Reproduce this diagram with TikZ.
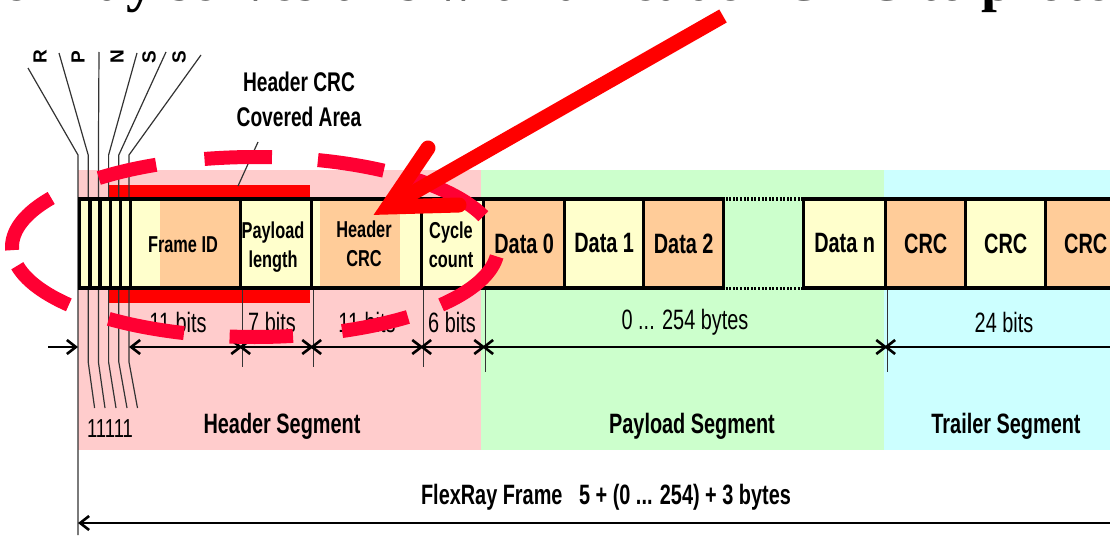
\documentclass[tikz,border=0pt]{standalone}
\usepackage{fontspec}
\setmainfont{Liberation Sans}[FakeStretch=0.71]
\newfontfamily\plainsans{Liberation Sans}
\newfontfamily\headserif{Liberation Serif}
\usetikzlibrary{arrows.meta}

\definecolor{hdrpink}{HTML}{FFCCCC}
\definecolor{paygreen}{HTML}{CCFFCC}
\definecolor{trlcyan}{HTML}{CCFFFF}
\definecolor{cellorange}{HTML}{FFCC99}
\definecolor{cellyellow}{HTML}{FFFFCC}
\definecolor{crcred}{HTML}{FF0000}
\definecolor{ringred}{HTML}{FF0033}
\definecolor{inkgrey}{HTML}{333333}

\begin{document}
\begin{tikzpicture}[x=1pt,y=-1pt,
  segbox/.style={draw=none, inner sep=0pt, anchor=north west, minimum height=280pt},
  cell/.style={draw=black, line width=3.4pt, anchor=west, minimum height=89pt, inner sep=0pt, align=center},
  celltxt/.style={font=\fontsize{23}{29}\selectfont\bfseries},
  datatxt/.style={font=\fontsize{28}{30}\selectfont\bfseries},
  bigbold/.style={inner sep=0pt, font=\fontsize{28}{34}\selectfont\bfseries, align=center},
  bigplain/.style={inner sep=0pt, font=\fontsize{28}{30}\selectfont},
  flaglbl/.style={inner sep=0pt, rotate=90, font=\fontsize{19}{19}\selectfont\plainsans\bfseries},
  thinline/.style={line width=1.2pt, draw=inkgrey},
  dotedge/.style={line width=3.4pt, dash pattern=on 2pt off 1.6pt},
  barb/.tip={Straight Barb[length=9pt,width=14pt]},
  dim/.style={line width=2.6pt, barb-barb},
  dimto/.style={line width=2.6pt, -barb},
  dimfrom/.style={line width=2.6pt, barb-},
  ringdash/.style={draw=ringred, line width=14pt, line cap=butt},
  bigarrow/.style={draw=crcred, line width=15pt}
]
\useasboundingbox (0,0) rectangle (1110,535);
\clip (0,0) rectangle (1110,535);

% slide heading running off the top edge
\node[anchor=base west, inner sep=0pt, font=\fontsize{57}{60}\selectfont\headserif\bfseries] (heading) at (-48,1) {FlexRay serves this with a header CRC to protect};

% segment backgrounds
\node[segbox, fill=hdrpink,  minimum width=403pt] (hseg) at (78,170) {};
\node[segbox, fill=paygreen, minimum width=403pt] (pseg) at (481,170) {};
\node[segbox, fill=trlcyan,  minimum width=240pt] (tseg) at (884,170) {};

% area covered by the header CRC
\fill[crcred] (109,185) rectangle (310,199);
\fill[crcred] (109,288) rectangle (310,303);

% indicator bit labels and their leader lines
\node[flaglbl] (fR)  at (40,57)  {R};
\node[flaglbl] (fP)  at (78,57)  {P};
\node[flaglbl] (fN)  at (117,57) {N};
\node[flaglbl] (fS1) at (149,57) {S};
\node[flaglbl] (fS2) at (179,57) {S};
\draw[thinline] (28,68) -- (78,155) -- (78,535);
\draw[thinline] (59,53) -- (88.2,155) -- (88.2,362) -- (94.6,408);
\draw[thinline] (99,52) -- (98.4,155) -- (98.4,362) -- (105,408);
\draw[thinline] (137,53) -- (108.6,155) -- (108.6,362) -- (116,408);
\draw[thinline] (166,52) -- (118.8,155) -- (118.8,362) -- (127,408);
\draw[thinline] (201,55) -- (129,155) -- (129,362) -- (137.5,408);
\node[bigplain, font=\fontsize{26}{28}\selectfont] (ones) at (110,429) {11111};

% header CRC coverage callout
\node[bigbold, font=\fontsize{27}{35}\selectfont\bfseries] (covlbl) at (299,99) {Header CRC\\Covered Area};
\coordinate (covtip) at (238,186);
\draw[thinline] (258,142) -- (covtip);

% two-tone backgrounds of Frame ID and Header CRC
\fill[cellyellow] (129,199) rectangle (160,288);
\fill[cellorange] (160,199) rectangle (239,288);
\fill[cellyellow] (310,199) rectangle (420,288);
\fill[cellorange] (320,199) rectangle (400,288);

% frame cells
\node[cell, fill=cellyellow, minimum width=10.2pt] (b1) at (78,243.5) {};
\node[cell, fill=cellyellow, minimum width=10.2pt] (b2) at (88.2,243.5) {};
\node[cell, fill=cellyellow, minimum width=10.2pt] (b3) at (98.4,243.5) {};
\node[cell, fill=cellyellow, minimum width=10.2pt] (b4) at (108.6,243.5) {};
\node[cell, fill=cellyellow, minimum width=10.2pt] (b5) at (118.8,243.5) {};
\node[cell, minimum width=110pt] (fid)  at (129,243.5) {};
\node[celltxt] at (183,245) {Frame ID};
\node[cell, fill=cellyellow, minimum width=71pt] (plen) at (239,243.5) {};
\node[celltxt, align=center] at (273,247) {Payload\\length};
\node[cell, minimum width=110pt] (hcrc) at (310,243.5) {};
\node[celltxt, align=center] at (364,244) {Header\\CRC};
\node[cell, fill=cellyellow, minimum width=62pt] (cyc) at (420,243.5) {};
\node[celltxt, align=center] at (451,245) {Cycle\\count};
\node[cell, fill=cellorange, minimum width=81pt, datatxt] (d0) at (482,243.5) {Data 0};
\node[cell, fill=cellyellow, minimum width=79pt, datatxt] (d1) at (563,243.5) {Data 1};
\node[cell, fill=cellorange, minimum width=80pt, datatxt] (d2) at (642,243.5) {Data 2};
\node[anchor=west, minimum width=80pt, minimum height=89pt, inner sep=0pt] (dgap) at (722,243.5) {};
\draw[dotedge] (dgap.north west) -- (dgap.north east);
\draw[dotedge] (dgap.south west) -- (dgap.south east);
\node[cell, fill=cellyellow, minimum width=82pt, datatxt] (dn) at (802,243.5) {Data n};
\node[cell, fill=cellorange, minimum width=80pt, datatxt] (c1) at (884,243.5) {CRC};
\node[cell, fill=cellyellow, minimum width=80pt, datatxt] (c2) at (964,243.5) {CRC};
\node[cell, fill=cellorange, minimum width=80pt, datatxt] (c3) at (1044,243.5) {CRC};

% boundary ticks below the frame
\draw[thinline] (fid.south east) -- ++(0,77);
\draw[thinline] (plen.south east) -- ++(0,77);
\draw[thinline] (hcrc.south east) -- ++(0,77);
\draw[thinline] (cyc.south east) -- ++(0,82);
\draw[thinline] (dn.south east) -- ++(0,82);

% field sizes
\node[bigplain] (s1) at (178,322) {11 bits};
\node[bigplain] (s2) at (272,322) {7 bits};
\node[bigplain] (s3) at (367,322) {11 bits};
\node[bigplain] (s4) at (452,322) {6 bits};
\node[bigplain] (s5) at (685,322) {0 ... 254 bytes};
\node[bigplain] (s6) at (1004,322) {24 bits};

\coordinate (dimrow) at (0,347);
\coordinate (dimstart) at (48,347);
\draw[dimto] (dimstart) -- (b1.south west |- dimrow);
\draw[dim] (fid.south west |- dimrow) -- (fid.south east |- dimrow);
\draw[dim] (plen.south west |- dimrow) -- (plen.south east |- dimrow);
\draw[dim] (hcrc.south west |- dimrow) -- (hcrc.south east |- dimrow);
\draw[dim] (cyc.south west |- dimrow) -- (cyc.south east |- dimrow);
\draw[dim] (d0.south west |- dimrow) -- (dn.south east |- dimrow);
\draw[dim] (c1.south west |- dimrow) -- (1140,347);

% segment names
\node[bigbold] (hname) at (282,426) {Header Segment};
\node[bigbold] (pname) at (692,426) {Payload Segment};
\node[bigbold] (tname) at (1006,426) {Trailer Segment};

% whole frame
\node[bigbold] (fname) at (606,497) {FlexRay Frame\ \ \ 5 + (0 ... 254) + 3 bytes};
\coordinate (frameend) at (1140,523);
\draw[dimfrom] (b1.south west |- frameend) -- (frameend);

% hand-drawn dashed ring round the header fields
\foreach \ta/\tb in {6/40, 51/69, 81/96, 107/127, 140/168, 178/213, 230/246, 258/274, 285/302, 308/340}
  \draw[ringdash] plot[domain=\ta:\tb, samples=24, smooth] ({255+243*cos(\x)},{247+90*sin(\x)});

% pointer arrow
\coordinate (arrtail) at (723,16);
\coordinate (arrtip) at (388,207);
\coordinate (armup) at (428,148);
\coordinate (armright) at (459,205);
\draw[bigarrow, line cap=butt] (arrtail) -- (arrtip);
\draw[bigarrow, line cap=round, line join=miter] (armup) -- (arrtip) -- (armright);
\end{tikzpicture}
\end{document}
